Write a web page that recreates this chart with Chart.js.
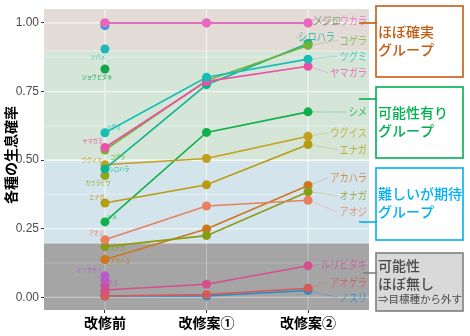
<!DOCTYPE html>
<html>
<head>
<meta charset="utf-8">
<script src="https://cdn.jsdelivr.net/npm/chart.js@4"></script>
<style>
  html, body { margin: 0; padding: 0; background: #fff; }
  #wrap { width: 470px; height: 336px; }
</style>
</head>
<body>
<div id="wrap"><canvas id="chart" width="470" height="336"></canvas></div>
<script>
// stages on the x axis
const stages = ['改修前', '改修案①', '改修案②'];

// species and their probability at each stage (null = not shown)
const species = ['シジュウカラ', 'メジロ', 'ツバメ', 'ジョウビタキ', 'ツグミ', 'ヤマガラ', 'コゲラ', 'シロハラ',
  'ウグイス', 'カワラヒワ', 'エナガ', 'シメ', 'アオジ', 'オナガ', 'アカハラ', 'ミソサザイ', 'モズ',
  'ルリビタキ', 'アオゲラ', 'ノスリ'];
const before = [1.0, 1.0, 0.905, 0.832, 0.600, 0.546, 0.537, 0.468,
  0.483, 0.444, 0.344, 0.275, 0.210, 0.185, 0.138, 0.079, 0.063,
  0.027, 0.005, 0.005];
const plan1 = [1.0, 1.0, null, null, 0.802, 0.787, 0.790, 0.775,
  0.506, null, 0.410, 0.601, 0.333, 0.225, 0.249, null, null,
  0.048, 0.010, 0.005];
const plan2 = [1.0, 1.0, null, null, 0.868, 0.842, 0.918, 0.925,
  0.587, null, 0.557, 0.676, 0.354, 0.385, 0.408, null, null,
  0.115, 0.033, 0.025];

// unlabelled points hidden in the 改修前 clusters
const hiddenBefore = [0.990, 0.043, 0.019];

// y ticks and group thresholds
const yTicks = [0, 0.25, 0.5, 0.75, 1.0];
const groupBreaks = [0.9, 0.5, 0.2];

// colours
const colors = ['#F062C4', '#4DB04F', '#1BB8BC', '#12A650', '#16BDB6', '#EE50A8', '#72B43A', '#0DB38E',
  '#C2A01A', '#92A81C', '#B79C10', '#10B04A', '#E8805F', '#8A9C14', '#CC761E', '#B85CCB', '#C35AB8',
  '#D4508C', '#D65A55', '#1E8FD2'];
const hiddenColors = ['#2E9BE0', '#B653B0', '#D0507A'];

// label placement (right side tags at 改修案②, small tags at 改修前)
const tagAt = [1.007, 1.007, null, null, 0.879, 0.818, 0.936, 0.950,
  0.600, null, 0.539, 0.675, 0.311, 0.371, 0.436, null, null,
  0.118, 0.054, 0.0];
const tagRight = [59, 33, 0, 0, 59, 59, 59, 27, 59, 0, 59, 59, 59, 59, 59, 0, 0, 59, 59, 59];
const smallTag = [null, null, [-7, 8, 'center'], [-8, 8, 'center'], [1, -6, 'left'], [-2, -7, 'right'],
  [5, 7, 'left'], [4, 0, 'left'], [-3, -5, 'right'], [-7, 7, 'center'], [-8, -6, 'center'], [2, -5, 'left'],
  [-1, -7, 'right'], [5, 1, 'left'], [5, 1, 'left'], [-3, -6, 'right'], [3, 3, 'left'], null, null, null];

// Chart.js paints the first dataset on top, so species go first, hidden points last
const datasets = [];
species.forEach((name, i) => {
  const pts = [before[i], plan1[i], plan2[i]]
    .map((v, k) => v === null ? null : { x: k, y: v })
    .filter(p => p);
  datasets.push({
    label: name, data: pts,
    backgroundColor: colors[i], borderColor: colors[i]
  });
});
hiddenBefore.forEach((v, i) => {
  datasets.push({
    label: '', data: [{ x: 0, y: v }],
    backgroundColor: hiddenColors[i], borderColor: hiddenColors[i]
  });
});

function alpha(hex, a) {
  const n = parseInt(hex.slice(1), 16);
  return `rgba(${n >> 16},${(n >> 8) & 255},${n & 255},${a})`;
}

const jp = '"Noto Sans CJK JP", sans-serif';

const panelPlugin = {
  id: 'panel',
  beforeDatasetsDraw(chart) {
    const { ctx, chartArea: a, scales: { x, y } } = chart;
    ctx.save();
    ctx.fillStyle = '#EBEBEB';
    ctx.fillRect(a.left, a.top, a.right - a.left, a.bottom - a.top);
    const edges = [a.top, y.getPixelForValue(groupBreaks[0]), y.getPixelForValue(groupBreaks[1]),
      y.getPixelForValue(groupBreaks[2]), a.bottom];
    const fills = ['#E3DBD6', '#D5E6D8', '#D4E4EC', '#A5A5A5'];
    fills.forEach((f, i) => {
      ctx.fillStyle = f;
      const t = i === 0 ? edges[i] : edges[i] + 1;
      ctx.fillRect(a.left, t, a.right - a.left, edges[i + 1] - t);
    });
    // grid
    const gray = y.getPixelForValue(groupBreaks[2]);
    const hline = (v, w, al) => {
      const py = y.getPixelForValue(v);
      ctx.strokeStyle = py > gray ? `rgba(255,255,255,${al * 0.45})` : `rgba(255,255,255,${al})`;
      ctx.lineWidth = w;
      ctx.beginPath(); ctx.moveTo(a.left, py); ctx.lineTo(a.right, py); ctx.stroke();
    };
    [0.125, 0.375, 0.625, 0.875].forEach(v => hline(v, 0.6, 0.7));
    yTicks.forEach(v => hline(v, 1.1, 0.8));
    [0, 1, 2].forEach(v => {
      const px = x.getPixelForValue(v);
      ctx.strokeStyle = 'rgba(255,255,255,0.7)';
      ctx.lineWidth = 1.1;
      ctx.beginPath(); ctx.moveTo(px, a.top); ctx.lineTo(px, gray); ctx.stroke();
      ctx.strokeStyle = 'rgba(255,255,255,0.3)';
      ctx.beginPath(); ctx.moveTo(px, gray); ctx.lineTo(px, a.bottom); ctx.stroke();
    });
    ctx.restore();
  },
  afterDatasetsDraw(chart) {
    const { ctx, scales: { x, y } } = chart;
    ctx.save();
    // small tags at 改修前
    ctx.textBaseline = 'middle';
    species.forEach((name, i) => {
      const t = smallTag[i];
      if (!t) return;
      const px = x.getPixelForValue(0) + t[0];
      const py = y.getPixelForValue(before[i]) + t[1];
      ctx.font = '6px ' + jp;
      ctx.fillStyle = colors[i];
      const w = ctx.measureText(name).width * 0.85;
      let lx = px;
      if (t[2] === 'center') lx = px - w / 2;
      if (t[2] === 'right') lx = px - w;
      ctx.save();
      ctx.translate(lx, py);
      ctx.scale(0.85, 1);
      ctx.textAlign = 'left';
      ctx.fillText(name, 0, 0);
      ctx.restore();
    });
    // tags at 改修案②
    species.forEach((name, i) => {
      if (tagAt[i] === null) return;
      const px = x.getPixelForValue(2);
      const py = y.getPixelForValue(plan2[i]);
      const ty = y.getPixelForValue(tagAt[i]);
      ctx.font = '11.5px ' + jp;
      const w = ctx.measureText(name).width * 0.8;
      const right = px + tagRight[i];
      const left = right - w;
      if (Math.abs(ty - py) > 3 || left - px > 12) {
        ctx.strokeStyle = alpha(colors[i], 0.3);
        ctx.lineWidth = 1;
        ctx.beginPath(); ctx.moveTo(px, py); ctx.lineTo(left - 2, ty); ctx.stroke();
      }
      ctx.fillStyle = alpha(colors[i], 0.75);
      ctx.save();
      ctx.translate(left, ty);
      ctx.scale(0.8, 1);
      ctx.textAlign = 'left';
      ctx.fillText(name, 0, 0);
      ctx.restore();
    });
    ctx.restore();
  },
  afterDraw(chart) {
    const { ctx } = chart;
    ctx.save();
    // y axis title
    ctx.translate(11, 155);
    ctx.rotate(-Math.PI / 2);
    ctx.font = 'bold 14px ' + jp;
    ctx.fillStyle = '#000';
    ctx.textAlign = 'center';
    ctx.textBaseline = 'middle';
    ctx.fillText('各種の生息確率', 0, 0);
    ctx.restore();

    // group boxes
    const boxes = [
      { top: 6, bottom: 77, lead: 23, from: 359, color: '#C55A11', fill: '#fff', lines: [['ほぼ確実', 32, 14], ['グループ', 50, 14]] },
      { top: 87, bottom: 158, lead: 99, from: 359, color: '#00B050', fill: '#fff', lines: [['可能性有り', 113, 14], ['グループ', 131, 14]] },
      { top: 168, bottom: 240, lead: 222, from: 359, color: '#00B0F0', fill: '#fff', lines: [['難しいが期待', 194, 14], ['グループ', 212, 14]] },
      { top: 253, bottom: 311, lead: 273, from: 363, color: '#7F7F7F', fill: '#D9D9D9', text: '#4A4A4A', lines: [['可能性', 266, 14], ['ほぼ無し', 284, 14], ['⇒目標種から外す', 299, 10.5]] }
    ];
    boxes.forEach(b => {
      ctx.save();
      ctx.fillStyle = b.fill;
      ctx.fillRect(376, b.top, 87, b.bottom - b.top);
      ctx.strokeStyle = b.color;
      ctx.lineWidth = 1.6;
      ctx.strokeRect(376, b.top, 87, b.bottom - b.top);
      ctx.beginPath(); ctx.moveTo(b.from, b.lead); ctx.lineTo(377, b.lead); ctx.stroke();
      ctx.fillStyle = b.text || b.color;
      ctx.textAlign = 'left';
      ctx.textBaseline = 'middle';
      b.lines.forEach(l => {
        ctx.font = (l[2] > 12 ? '500 ' : '') + l[2] + 'px ' + jp;
        ctx.fillText(l[0], 378, l[1]);
      });
      ctx.restore();
    });
  }
};

new Chart(document.getElementById('chart'), {
  type: 'scatter',
  data: { datasets },
  options: {
    responsive: false,
    animation: false,
    layout: { padding: { left: 0, top: 4, right: 101, bottom: 0 } },
    plugins: { legend: { display: false }, tooltip: { enabled: false } },
    datasets: {
      scatter: { showLine: true, borderWidth: 1.6, pointRadius: 4.5, pointBorderWidth: 0 }
    },
    scales: {
      x: {
        type: 'linear', min: -0.6, max: 2.6,
        afterBuildTicks: s => { s.ticks = [0, 1, 2].map(v => ({ value: v })); },
        afterFit: s => { s.height = 26; },
        ticks: {
          callback: v => stages[v], autoSkip: false, maxRotation: 0, padding: 1,
          color: '#000', font: { family: jp, size: 14, weight: 'bold' }
        },
        grid: { display: true, drawOnChartArea: false, tickLength: 3, color: '#333' },
        border: { display: false }
      },
      y: {
        min: -0.046, max: 1.05,
        afterBuildTicks: s => { s.ticks = yTicks.map(v => ({ value: v })); },
        afterFit: s => { s.width = 44; },
        ticks: {
          callback: v => v.toFixed(2), padding: 2,
          color: '#4D4D4D', font: { family: 'Liberation Sans', size: 12 }
        },
        grid: { display: true, drawOnChartArea: false, tickLength: 3, color: '#333' },
        border: { display: false }
      }
    }
  },
  plugins: [panelPlugin]
});
</script>
</body>
</html>
